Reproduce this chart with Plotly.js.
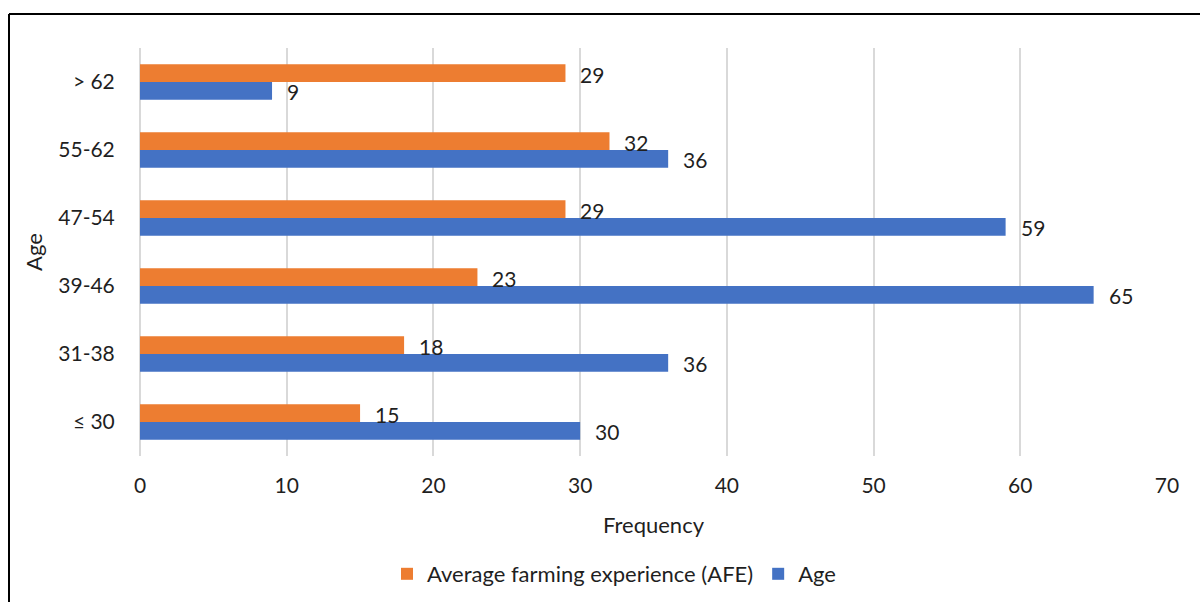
<!DOCTYPE html>
<html>
<head>
<meta charset="utf-8">
<script src="https://cdn.plot.ly/plotly-3.0.1.min.js"></script>
<style>
  html, body { margin: 0; padding: 0; background: #fff; }
  #chart { width: 1200px; height: 602px; }
</style>
</head>
<body>
<div id="chart"></div>
<script>
// Age groups, bottom to top
const ageGroups = ["≤ 30", "31-38", "39-46", "47-54", "55-62", "> 62"];
// Frequency of respondents per age group
const ageCounts = [30, 36, 65, 59, 36, 9];
// Average farming experience per age group
const afeValues = [15, 18, 23, 29, 32, 29];
const xTicks = [0, 10, 20, 30, 40, 50, 60, 70];

const FONT = "Lato, 'Open Sans', sans-serif";
const TXT = "#1f1f1f";
const BLUE = "#4472C4", ORANGE = "#ED7D31";

const traces = [
  {
    type: "bar", orientation: "h",
    name: "Age",
    y: ageGroups, x: ageCounts,
    marker: { color: BLUE },
    legendrank: 2
  },
  {
    type: "bar", orientation: "h",
    name: "Average farming experience (AFE)",
    y: ageGroups, x: afeValues,
    marker: { color: ORANGE },
    legendrank: 1
  }
];

// Value labels just past the end of each bar
function valueLabels(values, shiftY) {
  return values.map((v, i) => ({
    x: v, y: ageGroups[i], xref: "x", yref: "y",
    text: String(v), showarrow: false,
    xanchor: "left", yanchor: "middle",
    xshift: 13, yshift: shiftY,
    font: { family: FONT, size: 21, color: TXT }
  }));
}

const W = 1200, H = 602;
const M = { l: 140, r: 33, t: 48, b: 146 };
const pw = W - M.l - M.r, ph = H - M.t - M.b;
const px = v => (v - M.l) / pw;
const py = v => (H - M.b - v) / ph;

const layout = {
  width: W, height: H,
  margin: M,
  paper_bgcolor: "#fff", plot_bgcolor: "#fff",
  font: { family: FONT, size: 21, color: TXT },
  barmode: "group",
  bargap: 0.48,
  bargroupgap: 0,
  showlegend: true,
  legend: {
    orientation: "h",
    xref: "container", yref: "container",
    x: 614 / W, xanchor: "center",
    y: 1 - 574 / H, yanchor: "middle",
    font: { family: FONT, size: 22, color: TXT },
    itemwidth: 30,
    traceorder: "normal"
  },
  xaxis: {
    range: [0, 70],
    tickvals: xTicks,
    automargin: false,
    showgrid: true, gridcolor: "#d9d9d9", gridwidth: 2,
    zeroline: true, zerolinecolor: "#d9d9d9", zerolinewidth: 2,
    showline: false,
    ticks: "outside", ticklen: 11, tickcolor: "rgba(0,0,0,0)",
    tickfont: { family: FONT, size: 21, color: TXT },
    title: { text: "Frequency", font: { family: FONT, size: 22, color: TXT }, standoff: 21 },
    fixedrange: true
  },
  yaxis: {
    type: "category",
    categoryorder: "array", categoryarray: ageGroups,
    automargin: false,
    showgrid: false, zeroline: false, showline: false,
    ticks: "outside", ticklen: 20, tickcolor: "rgba(0,0,0,0)",
    tickfont: { family: FONT, size: 21, color: TXT },
    title: { text: "Age", font: { family: FONT, size: 22, color: TXT }, standoff: 9 },
    fixedrange: true
  },
  annotations: valueLabels(afeValues, 8).concat(valueLabels(ageCounts, -9)),
  shapes: [
    { type: "line", xref: "paper", yref: "paper",
      x0: px(9), x1: px(9), y0: py(14), y1: py(620),
      line: { color: "#000", width: 2 } },
    { type: "line", xref: "paper", yref: "paper",
      x0: px(9), x1: px(1220), y0: py(14), y1: py(14),
      line: { color: "#000", width: 2 } }
  ]
};

Plotly.newPlot("chart", traces, layout, { displayModeBar: false, staticPlot: true });
</script>
</body>
</html>
